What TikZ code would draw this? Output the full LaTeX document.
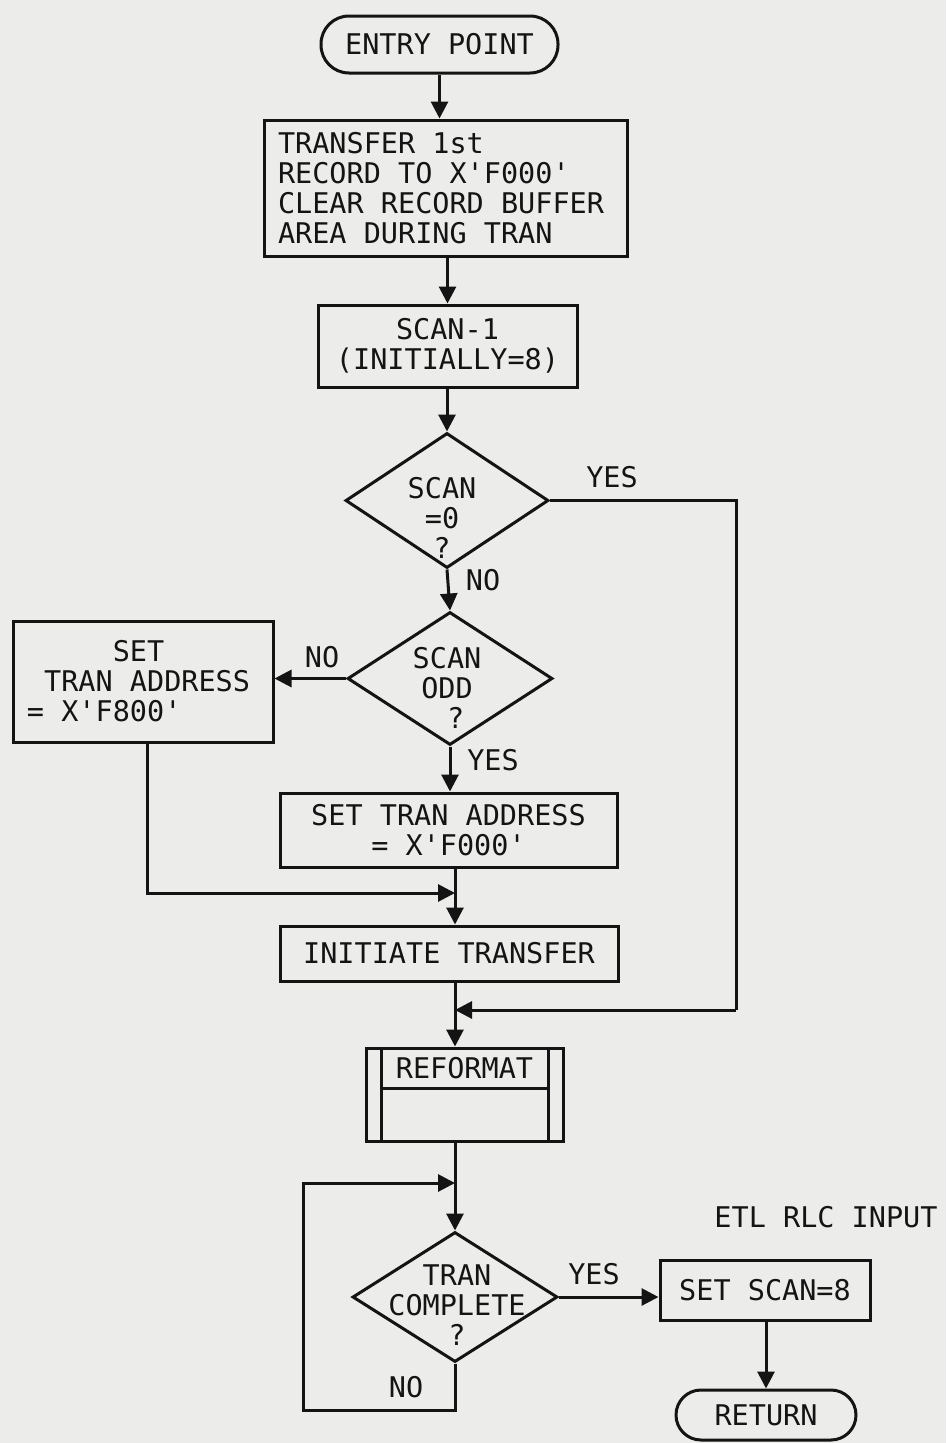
\documentclass[tikz,border=0pt]{standalone}
\usepackage{fontspec}
\setmonofont{DejaVu Sans Mono}
\usetikzlibrary{shapes.geometric,arrows.meta}
\definecolor{paper}{RGB}{236,236,234}
\definecolor{ink}{RGB}{20,20,20}
\begin{document}
\begin{tikzpicture}[x=1pt,y=-1pt,
  line width=3pt, draw=ink,
  font=\ttfamily\fontsize{28.5}{30}\selectfont,
  box/.style={draw=ink, rectangle, inner sep=0pt, align=center, text=ink},
  term/.style={draw=ink, rectangle, inner sep=0pt, text=ink},
  dia/.style={draw=ink, diamond, inner sep=0pt},
  lbl/.style={inner sep=0pt, text=ink, align=center},
  arr/.style={-{Triangle[length=17pt,width=17pt]}, line join=miter},
  ln/.style={line join=miter}]
\fill[paper] (0,0) rectangle (946,1443);
\useasboundingbox (0,0) rectangle (946,1443);

% nodes
\node[term, rounded corners=28pt, minimum width=237pt, minimum height=57pt] (entry) at (439.5,44.5) {ENTRY POINT};
\node[box, minimum width=363pt, minimum height=136pt, text width=336pt, align=flush left] (first) at (446,188) {TRANSFER 1st\\RECORD TO X'F000'\\CLEAR RECORD BUFFER\\AREA DURING TRAN};
\node[box, minimum width=259pt, minimum height=82pt] (scanm) at (447.5,346) {SCAN-1\\(INITIALLY=8)};
\node[dia, minimum width=203pt, minimum height=135pt] (d1) at (447,500.5) {};
\node[lbl] (d1t) at (442,518) {SCAN\\=0\\?};
\node[dia, minimum width=205pt, minimum height=133pt] (d2) at (450,678.5) {};
\node[lbl] (d2t) at (447,688) {SCAN\\ODD\\~?};
\node[box, minimum width=260pt, minimum height=121pt, text width=232pt, align=flush left] (f800) at (143,681.5) {~~~~~SET\\~TRAN ADDRESS\\= X'F800'};
\node[box, minimum width=337pt, minimum height=74pt] (f000) at (448.5,830) {SET TRAN ADDRESS\\= X'F000'};
\node[box, minimum width=338pt, minimum height=55pt] (init) at (449,953.5) {INITIATE TRANSFER};
\node[box, minimum width=197pt, minimum height=93pt] (ref) at (464.5,1094.5) {};
\node[lbl] (reft) at (464.5,1068) {REFORMAT};
\draw[ln] (381,1048) -- (381,1141);
\draw[ln] (548,1048) -- (548,1141);
\draw[ln] (381,1088) -- (548,1088);
\node[dia, minimum width=205pt, minimum height=130pt] (d3) at (455,1297) {};
\node[lbl] (d3t) at (457,1305) {TRAN\\COMPLETE\\?};
\node[box, minimum width=210pt, minimum height=60pt] (scan8) at (765,1290) {SET SCAN=8};
\node[term, rounded corners=25pt, minimum width=180pt, minimum height=50pt] (ret) at (766,1415) {RETURN};
\node[lbl] (etl) at (826,1217) {ETL RLC INPUT};

% labels
\node[lbl] (y1) at (612,477) {YES};
\node[lbl] (n1) at (483,580) {NO};
\node[lbl] (n2) at (322,657) {NO};
\node[lbl] (y2) at (493,760) {YES};
\node[lbl] (y3) at (594,1274) {YES};
\node[lbl] (n3) at (406,1387) {NO};

% junction coordinates
\coordinate (j1) at (455,893);
\coordinate (j2) at (455,1010);
\coordinate (j3) at (455,1183);
\coordinate (rc) at (736,500.5);
\coordinate (lc) at (147,893);
\coordinate (lp1) at (455,1410);
\coordinate (lp2) at (303,1410);
\coordinate (lp3) at (303,1183);

% connectors
\draw[arr] (entry.south) -- (entry.south |- first.north);
\draw[arr] (scanm.north |- first.south) -- (scanm.north);
\draw[arr] (d1.north |- scanm.south) -- (d1.north);
\draw[arr] (d1.south) -- (d2.north);
\draw[arr] (d2.west) -- (d2.west -| f800.east);
\draw[arr] (d2.south) -- (d2.south |- f000.north);
\draw[arr] (j1 |- f000.south) -- (j1 |- init.north);
\draw[arr] (lc |- f800.south) -- (lc) -- (j1);
\draw[ln] (d1.east) -- (rc) -- (rc |- j2);
\draw[arr] (rc |- j2) -- (j2);
\draw[arr] (j2 |- init.south) -- (j2 |- ref.north);
\draw[arr] (j3 |- ref.south) -- (d3.north);
\draw[arr] (d3.south) -- (lp1) -- (lp2) -- (lp3) -- (j3);
\draw[arr] (d3.east) -- (d3.east -| scan8.west);
\draw[arr] (scan8.south -| ret.north) -- (ret.north);
\end{tikzpicture}
\end{document}
